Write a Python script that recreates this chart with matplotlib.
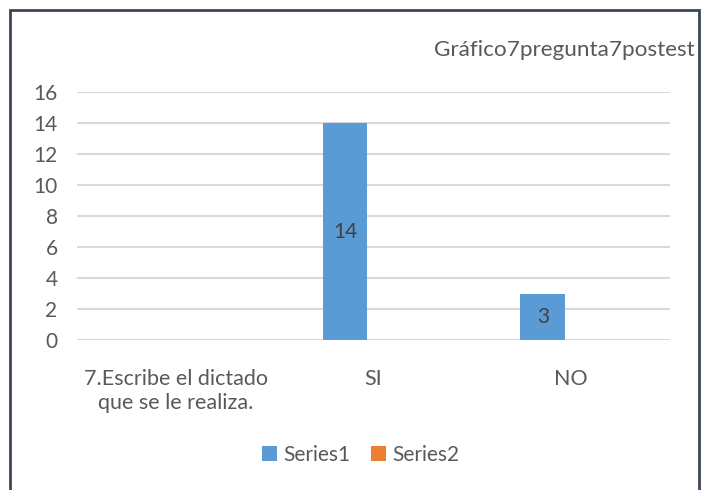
import numpy as np
import matplotlib.pyplot as plt
from matplotlib.patches import Rectangle

categories = ['7.Escribe el dictado\nque se le realiza.', 'SI', 'NO']
series1 = [0, 14, 3]
series2 = [0, 0, 0]
title = 'Gráfico7pregunta7postest'

plt.rcParams['font.family'] = ['Lato', 'DejaVu Sans']
txt = '#595959'

fig = plt.figure(figsize=(7.07, 4.9), dpi=100)
ax = fig.add_axes([0.1089, 0.3061, 0.8388, 0.5061])

x = np.arange(len(categories))
off, w = 0.144, 0.225
b1 = ax.bar(x - off, series1, w, color='#5b9bd5', label='Series1', zorder=3)
b2 = ax.bar(x + off, series2, w, color='#ed7d31', label='Series2', zorder=3)

for rect, v in zip(b1, series1):
    if v > 0:
        ax.text(rect.get_x() + rect.get_width() / 2, v / 2, str(v),
                ha='center', va='center', fontsize=15, color='#404040', zorder=4)

ax.set_xlim(-0.5, 2.5)
ax.set_ylim(0, 16)
ax.set_yticks(range(0, 17, 2))
ax.set_xticks(x)
ax.set_xticklabels(categories, fontsize=15.5, color=txt, linespacing=1.22)
ax.tick_params(axis='y', labelsize=15, labelcolor=txt, length=0, pad=14)
ax.tick_params(axis='x', length=0, pad=21)
ax.grid(axis='y', color='#d9d9d9', linewidth=1.5, zorder=0)
for s in ax.spines.values():
    s.set_visible(False)

fig.text(0.983, 0.897, title, ha='right', va='center', fontsize=16.2, color=txt)

leg = fig.legend(loc='center', bbox_to_anchor=(0.51, 0.072), ncol=2, frameon=False,
                 fontsize=15, handlelength=0.7, handleheight=0.7, handletextpad=0.3,
                 columnspacing=1.0)
for t in leg.get_texts():
    t.set_color(txt)

fig.patches.append(Rectangle((10 / 707, -0.05), 689 / 707, 1.05 - 10 / 490,
                             transform=fig.transFigure, fill=False,
                             edgecolor='#3b4658', linewidth=2))

fig.savefig('out.png', dpi=100)
